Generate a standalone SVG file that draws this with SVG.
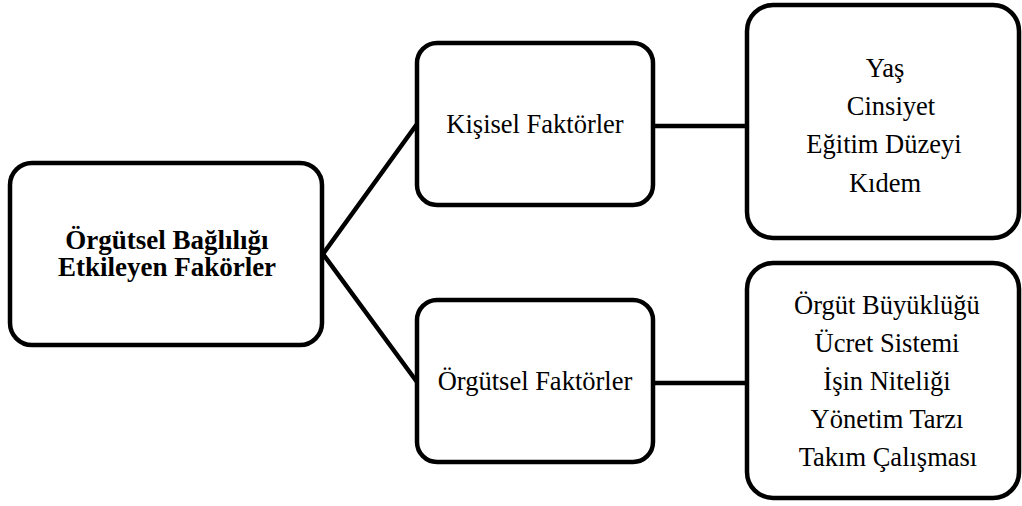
<svg xmlns="http://www.w3.org/2000/svg" width="1022" height="506" viewBox="0 0 1022 506">
<style>
.box{fill:#fff;stroke:#000;stroke-width:4.5}
.ln{stroke:#000;stroke-width:4.5;fill:none}
text{font-family:"Liberation Serif","Times New Roman",serif;font-size:26.5px;fill:#000;text-anchor:middle}
.b{font-weight:bold;font-size:27px}
</style>
<rect width="1022" height="506" fill="#fff"/>
<g id="connectors">
<polyline class="ln" points="417,124 323,254 417,382"/>
<line class="ln" x1="653" y1="126" x2="747" y2="126"/>
<line class="ln" x1="653" y1="383" x2="747" y2="383"/>
</g>
<g id="root">
<rect class="box" x="10" y="163" width="312" height="182" rx="22"/>
<text class="b" x="167" y="249">Örgütsel Bağlılığı</text>
<text class="b" x="167" y="276">Etkileyen Fakörler</text>
</g>
<g id="kisisel">
<rect class="box" x="417" y="43" width="236" height="162" rx="20"/>
<text x="535" y="133">Kişisel Faktörler</text>
</g>
<g id="orgutsel">
<rect class="box" x="417" y="300" width="236" height="162" rx="20"/>
<text x="535" y="390">Örgütsel Faktörler</text>
</g>
<g id="kisisel-list">
<rect class="box" x="747" y="5" width="272" height="233" rx="26"/>
<text x="885" y="77">Yaş</text>
<text x="891" y="115">Cinsiyet</text>
<text x="884" y="153">Eğitim Düzeyi</text>
<text x="885" y="192">Kıdem</text>
</g>
<g id="orgutsel-list">
<rect class="box" x="747" y="263" width="272" height="235" rx="26"/>
<text x="887" y="314">Örgüt Büyüklüğü</text>
<text x="887" y="352">Ücret Sistemi</text>
<text x="887" y="390">İşin Niteliği</text>
<text x="887" y="428">Yönetim Tarzı</text>
<text x="888" y="466">Takım Çalışması</text>
</g>
</svg>
